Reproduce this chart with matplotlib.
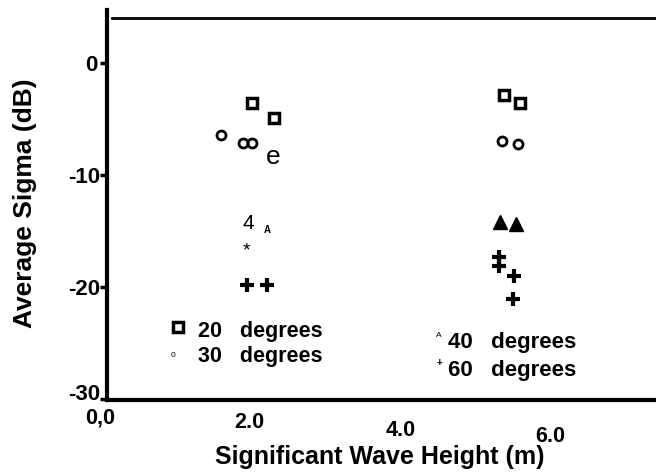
import matplotlib
matplotlib.use("Agg")
import matplotlib.pyplot as plt

plt.rcParams['font.family'] = ['Liberation Sans', 'DejaVu Sans']

# Data (wave height in m, sigma in dB)
wave_20 = [2.03, 2.32, 5.39, 5.60]
sigma_20 = [-3.6, -4.9, -2.9, -3.6]

wave_30 = [1.61, 1.91, 2.03, 2.31, 5.36, 5.57]
sigma_30 = [-6.4, -7.1, -7.1, -8.4, -7.0, -7.2]

wave_40 = [1.97, 2.23, 5.33, 5.55]
sigma_40 = [-14.3, -14.9, -14.2, -14.4]

wave_60 = [1.95, 1.96, 2.23, 5.32, 5.32, 5.52, 5.51]
sigma_60 = [-16.8, -19.8, -19.8, -17.3, -18.1, -19.0, -21.1]

y_ticks = [0, -10, -20, -30]
y_tick_labels = ['0', '-10', '-20', '-30']
x_ticks = [0, 2, 4, 6]
x_tick_labels = ['0,0', '2.0', '4.0', '6.0']
legend_labels = ['20   degrees', '30   degrees', '40   degrees', '60   degrees']

# scanned glyphs that stand in for some markers (None = normal marker)
glyph_30 = [None, None, None, 'e', None, None]
glyph_40 = ['4', 'A', None, None]
glyph_60 = ['*', None, None, None, None, None, None]

fig = plt.figure(figsize=(6.56, 4.74), dpi=100)
ax = fig.add_axes([107/656, 74/474, 549/656, 390/474])
ax.set_xlim(0.093, 7.41)
ax.set_ylim(-30.09, 4.73)

for s in ['top', 'right']:
    ax.spines[s].set_visible(False)
ax.spines['left'].set_linewidth(3)
ax.spines['bottom'].set_linewidth(3)
ax.axhline(4.0, xmin=0.01, color='black', lw=2)

# 20 degrees - open squares
ax.plot(wave_20, sigma_20, 's', ms=7.5, mfc='white', mec='black', mew=2.5, ls='none')

# 30 degrees - open circles
for x, y, g in zip(wave_30, sigma_30, glyph_30):
    if g is None:
        ax.plot(x, y, 'o', ms=6.5, mfc='none', mec='black', mew=2, ls='none')
    else:
        ax.text(x, y, g, fontsize=19, ha='center', va='center')

# 40 degrees - filled triangles
for x, y, g in zip(wave_40, sigma_40, glyph_40):
    if g is None:
        ax.plot(x, y, '^', ms=10, color='black', ls='none')
    elif g == 'A':
        ax.text(x, y, g, fontsize=7, fontweight='bold', ha='center', va='center')
    else:
        ax.text(x, y, g, fontsize=15, ha='center', va='center')

# 60 degrees - plus signs
for x, y, g in zip(wave_60, sigma_60, glyph_60):
    if g is None:
        ax.plot(x, y, '+', ms=10, color='black', mew=3, ls='none')
    else:
        ax.text(x, y, g, fontsize=14, ha='center', va='center')

# hand-made legend like the original
ax.plot(1.04, -23.6, 's', ms=7.5, mfc='white', mec='black', mew=2.5)
ax.text(0.97, -26.1, '0', fontsize=6, ha='center', va='center')
ax.text(4.52, -24.3, 'A', fontsize=6, ha='center', va='center')
ax.text(4.52, -26.8, '+', fontsize=7, fontweight='bold', ha='center', va='center')
ax.text(1.31, -24.0, legend_labels[0], fontsize=15.5, fontweight='bold', va='center')
ax.text(1.31, -26.2, legend_labels[1], fontsize=15.5, fontweight='bold', va='center')
ax.text(4.64, -25.0, legend_labels[2], fontsize=16, fontweight='bold', va='center')
ax.text(4.64, -27.5, legend_labels[3], fontsize=16, fontweight='bold', va='center')

# y ticks, labels placed by hand so the bottom one sits above the axis line
ax.set_yticks(y_ticks)
ax.set_yticklabels([])
ax.tick_params(axis='y', length=5, width=2.5)
y_offsets = [(-10, 0), (-7, 0), (-7, 0), (-7, 7)]
for t, lab, off in zip(y_ticks, y_tick_labels, y_offsets):
    ax.annotate(lab, xy=(0, t), xycoords=('axes fraction', 'data'),
                xytext=off, textcoords='offset pixels',
                fontsize=16, fontweight='bold', ha='right', va='center_baseline')

# staggered x tick labels as in the scan
ax.set_xticks([])
x_offsets = [(0, -18), (-1, -23), (1, -31), (0, -37)]
for t, lab, off in zip(x_ticks, x_tick_labels, x_offsets):
    ax.annotate(lab, xy=(t, 0), xycoords=('data', 'axes fraction'),
                xytext=off, textcoords='offset pixels',
                fontsize=15.5, fontweight='bold', ha='center', va='center')

fig.text(380/656, 1 - 457/474, 'Significant Wave Height (m)', fontsize=18,
         fontweight='bold', ha='center', va='center')
fig.text(25/656, 1 - 203/474, 'Average Sigma (dB)', fontsize=19,
         fontweight='bold', ha='center', va='center', rotation=90)

fig.savefig('out.png', dpi=100)
